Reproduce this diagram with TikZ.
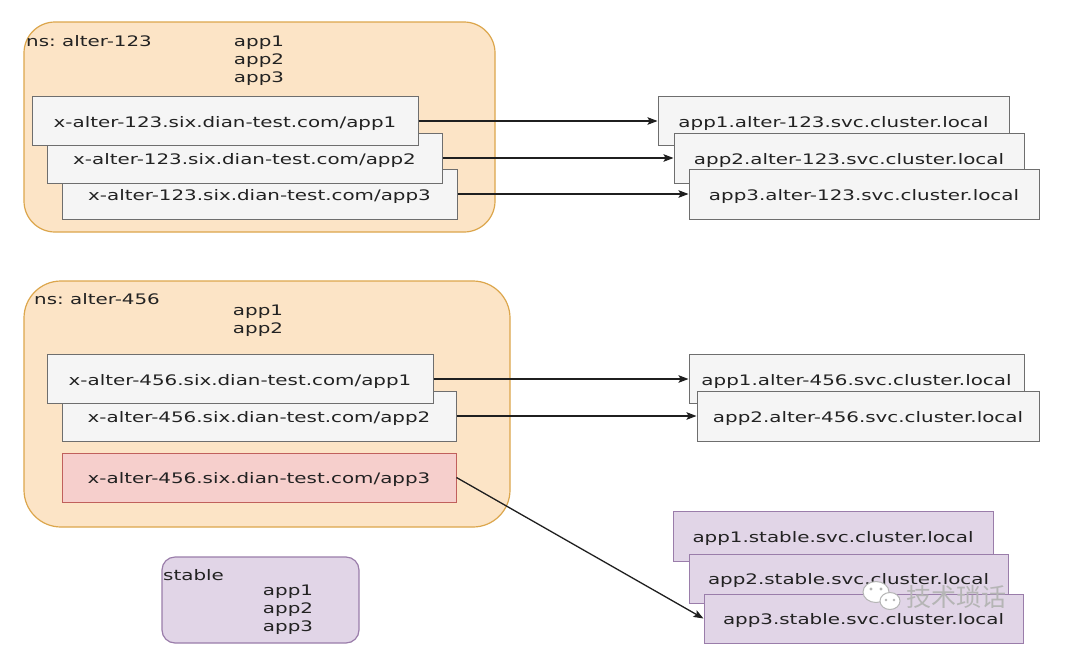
\documentclass[tikz,border=0pt]{standalone}
\usepackage{fontspec}
\setmainfont{DejaVu Sans}
\newfontfamily\diafont[FakeStretch=1.37]{DejaVu Sans}
\newfontfamily\cjkfont{Noto Sans CJK SC}
\usetikzlibrary{arrows.meta}
\frenchspacing
\definecolor{orfill}{HTML}{FCE4C6}
\definecolor{ordraw}{HTML}{DCA64C}
\definecolor{grfill}{HTML}{F5F5F5}
\definecolor{grdraw}{HTML}{6E6E6E}
\definecolor{rdfill}{HTML}{F6CFCC}
\definecolor{rddraw}{HTML}{C0605C}
\definecolor{pufill}{HTML}{E1D5E7}
\definecolor{pudraw}{HTML}{9A7DAA}
\definecolor{txt}{HTML}{222222}
\definecolor{wmark}{HTML}{B5B5B5}
\begin{document}
\begin{tikzpicture}[x=1pt,y=-1pt,
  every node/.style={font=\diafont\fontsize{14.5}{18.3}\selectfont\frenchspacing, text=txt, inner sep=0pt},
  container/.style={draw=ordraw, fill=orfill, line width=1.2pt, rectangle},
  stablebox/.style={draw=pudraw, fill=pufill, line width=1.2pt, rectangle, rounded corners=13pt},
  boxtext/.style={text height=12.5pt, text depth=0pt},
  gbox/.style={boxtext, draw=grdraw, fill=grfill, line width=1pt, rectangle},
  rbox/.style={boxtext, draw=rddraw, fill=rdfill, line width=1pt, rectangle},
  pbox/.style={boxtext, draw=pudraw, fill=pufill, line width=1pt, rectangle},
  conn/.style={-{Stealth[length=10pt,width=7.5pt,inset=2pt]}, line width=1.3pt, draw=black!88}
]
\fill[white] (0,0) rectangle (1073,670);
\useasboundingbox (0,0) rectangle (1073,670);

% containers
\node[container, rounded corners=31pt, minimum width=471pt, minimum height=210pt] (ns1) at (259.5,127) {};
\node[container, rounded corners=37pt, minimum width=486pt, minimum height=246pt] (ns2) at (267,404) {};
\node[stablebox, minimum width=197pt, minimum height=86pt] (st) at (260.5,600) {};

% container labels
\node[anchor=base west] (ns1lbl) at (26,46) {ns: alter-123};
\node[align=center] (ns1apps) at (259,60.8) {app1\\app2\\app3};
\node[anchor=base west] (ns2lbl) at (34,304) {ns: alter-456};
\node[align=center] (ns2apps) at (258,320.6) {app1\\app2};
\node[anchor=base west] (stlbl) at (163,580) {stable};
\node[align=center] (stapps) at (288,609.8) {app1\\app2\\app3};

% top-left boxes
\node[gbox, minimum width=395pt, minimum height=50pt] (b3) at (259.5,194) {x-alter-123.six.dian-test.com/app3};
\node[gbox, minimum width=395pt, minimum height=50pt] (b2) at (244.5,158) {x-alter-123.six.dian-test.com/app2};
\node[gbox, minimum width=386pt, minimum height=49pt] (b1) at (225,121) {x-alter-123.six.dian-test.com/app1};

% top-right boxes
\node[gbox, minimum width=351pt, minimum height=49pt] (r1) at (833.5,121) {app1.alter-123.svc.cluster.local};
\node[gbox, minimum width=350pt, minimum height=50pt] (r2) at (849,158) {app2.alter-123.svc.cluster.local};
\node[gbox, minimum width=350pt, minimum height=50pt] (r3) at (864,194) {app3.alter-123.svc.cluster.local};

% middle-left boxes
\node[gbox, minimum width=394pt, minimum height=50pt] (a2) at (259,416) {x-alter-456.six.dian-test.com/app2};
\node[gbox, minimum width=386pt, minimum height=49pt] (a1) at (240,379) {x-alter-456.six.dian-test.com/app1};
\node[rbox, minimum width=394pt, minimum height=49pt] (a3) at (259,477.5) {x-alter-456.six.dian-test.com/app3};

% middle-right boxes
\node[gbox, minimum width=335pt, minimum height=49pt] (ra1) at (856.5,379) {app1.alter-456.svc.cluster.local};
\node[gbox, minimum width=342pt, minimum height=50pt] (ra2) at (868,416) {app2.alter-456.svc.cluster.local};

% stable boxes
\node[pbox, minimum width=320pt, minimum height=50pt] (s1) at (833,536) {app1.stable.svc.cluster.local};
\node[pbox, minimum width=319pt, minimum height=49pt] (s2) at (848.5,578.5) {app2.stable.svc.cluster.local};
\node[pbox, minimum width=319pt, minimum height=49pt] (s3) at (863.5,618.5) {app3.stable.svc.cluster.local};

% connectors
\draw[conn] (b1.east) -- (r1.west);
\draw[conn] (b2.east) -- (r2.west);
\draw[conn] (b3.east) -- (r3.west);
\draw[conn] (a1.east) -- (ra1.west);
\draw[conn] (a2.east) -- (ra2.west);
\draw[conn] (a3.east) -- (s3.west);

% watermark
\draw[wmark, fill=white, line width=1pt] (876,592) ellipse [x radius=13, y radius=10.5];
\draw[wmark, fill=white, line width=1pt] (890,601) ellipse [x radius=10, y radius=8.5];
\fill[wmark] (871,589) circle [radius=1.6];
\fill[wmark] (881,589) circle [radius=1.6];
\fill[wmark] (886,600) circle [radius=1.4];
\fill[wmark] (894,600) circle [radius=1.4];
\node[font=\cjkfont\fontsize{25}{25}\selectfont, text=wmark] (wm) at (956,597) {技术琐话};
\end{tikzpicture}
\end{document}
